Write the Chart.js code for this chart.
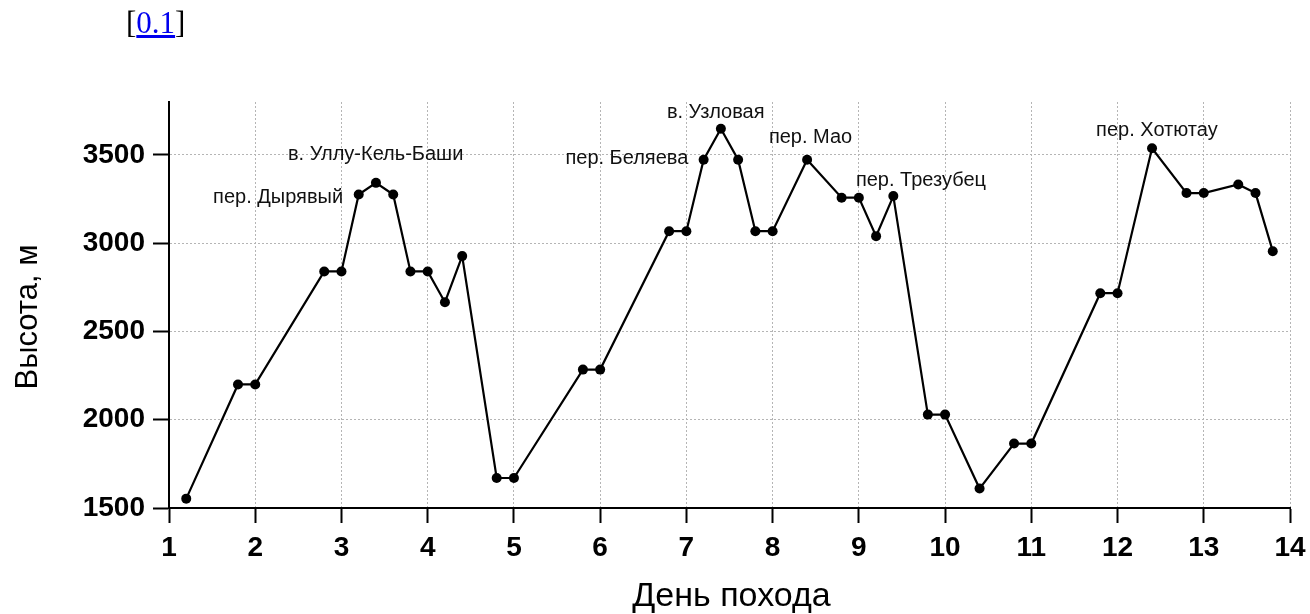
<!DOCTYPE html>
<html>
<head>
<meta charset="utf-8">
<script src="https://cdn.jsdelivr.net/npm/chart.js@4/dist/chart.umd.min.js"></script>
<style>
  html, body { margin: 0; padding: 0; background: #fff; }
  #wrap { position: relative; width: 1310px; height: 614px; overflow: hidden; }
  #c { position: absolute; left: 0; top: 0; }
  #ref { position: absolute; left: 126px; top: 5px; font-family: 'Liberation Serif', serif; font-size: 31px; line-height: 36px; color: #000; z-index: 2; }
  #ref a { color: #0000ee; text-decoration: underline; }
</style>
</head>
<body>
<div id="wrap">
  <div id="ref">[<a href="#">0.1</a>]</div>
  <canvas id="c" width="1310" height="614"></canvas>
</div>
<script>
// ---- data ----
const days = [1.2,1.8,2.0,2.8,3.0,3.2,3.4,3.6,3.8,4.0,4.2,4.4,4.8,5.0,5.8,6.0,6.8,7.0,7.2,7.4,7.6,7.8,8.0,8.4,8.8,9.0,9.2,9.4,9.8,10.0,10.4,10.8,11.0,11.8,12.0,12.4,12.8,13.0,13.4,13.6,13.8];
const heights = [1553,2200,2200,2840,2840,3276,3342,3276,2840,2840,2666,2927,1670,1670,2284,2284,3068,3068,3473,3648,3473,3068,3068,3473,3258,3258,3040,3267,2029,2029,1610,1865,1865,2717,2717,3538,3284,3284,3333,3284,2955];

const peakLabels = ['пер. Дырявый','в. Уллу-Кель-Баши','пер. Беляева','в. Узловая','пер. Мао','пер. Трезубец','пер. Хотютау'];
const peakLabelX = [2.265,3.396,6.31,7.34,8.44,9.72,12.456];
const peakLabelY = [3259,3503,3480,3741,3599,3355,3639];

const xTickValues = [1,2,3,4,5,6,7,8,9,10,11,12,13,14];
const yTickValues = [1500,2000,2500,3000,3500];
const xTitle = 'День похода';
const yTitle = 'Высота, м';
const xMin = 1, xMax = 14;
const yMin = 1500, yMax = 3800;

const points = days.map((d, i) => ({ x: d, y: heights[i] }));

const textPlugin = {
  id: 'texts',
  afterDatasetsDraw(chart) {
    const ctx = chart.ctx;
    const xs = chart.scales.x, ys = chart.scales.y;
    ctx.save();
    ctx.fillStyle = '#111';
    ctx.font = '20px "Liberation Sans", Arial, sans-serif';
    ctx.textAlign = 'center';
    ctx.textBaseline = 'middle';
    peakLabels.forEach((t, i) => {
      ctx.fillText(t, xs.getPixelForValue(peakLabelX[i]), ys.getPixelForValue(peakLabelY[i]));
    });
    const ca = chart.chartArea;
    ctx.fillStyle = '#000';
    ctx.font = '34px "Liberation Sans", Arial, sans-serif';
    ctx.textBaseline = 'alphabetic';
    ctx.fillText(xTitle, (ca.left + ca.right) / 2 + 2, 606);
    ctx.translate(37, 317);
    ctx.rotate(-Math.PI / 2);
    ctx.font = '31px "Liberation Sans", Arial, sans-serif';
    ctx.fillText(yTitle, 0, 0);
    ctx.restore();
  }
};

const tickFont = { family: '"Liberation Sans", Arial, sans-serif', size: 28, weight: 'bold' };

new Chart(document.getElementById('c'), {
  type: 'line',
  data: {
    datasets: [{
      data: points,
      borderColor: '#000',
      borderWidth: 2.2,
      backgroundColor: '#000',
      pointBackgroundColor: '#000',
      pointBorderWidth: 0,
      pointRadius: 5,
      tension: 0,
      fill: false
    }]
  },
  options: {
    responsive: false,
    devicePixelRatio: 1,
    animation: false,
    layout: { padding: { top: 102, right: 20, left: 0, bottom: 0 } },
    plugins: { legend: { display: false }, tooltip: { enabled: false } },
    scales: {
      x: {
        type: 'linear',
        min: xMin, max: xMax,
        afterBuildTicks(s) { s.ticks = xTickValues.map(v => ({ value: v })); },
        afterFit(s) { s.height = 106; s.paddingLeft = 0; s.paddingRight = 0; },
        ticks: { color: '#000', padding: 8, autoSkip: false, maxRotation: 0, font: tickFont, callback: v => String(v) },
        grid: { color: '#b5b5b5', lineWidth: 1, tickLength: 15, tickColor: '#000', tickWidth: 2, tickBorderDash: [] },
        border: { display: true, color: '#000', width: 2, dash: [2, 2] }
      },
      y: {
        type: 'linear',
        min: yMin, max: yMax,
        afterBuildTicks(s) { s.ticks = yTickValues.map(v => ({ value: v })); },
        afterFit(s) { s.width = 169; s.paddingTop = 0; s.paddingBottom = 0; },
        ticks: { color: '#000', padding: 8, autoSkip: false, font: tickFont, callback: v => String(v) },
        grid: { color: '#b5b5b5', lineWidth: 1, tickLength: 16, tickColor: '#000', tickWidth: 2, tickBorderDash: [] },
        border: { display: true, color: '#000', width: 2, dash: [2, 2] }
      }
    }
  },
  plugins: [textPlugin]
});
</script>
</body>
</html>
